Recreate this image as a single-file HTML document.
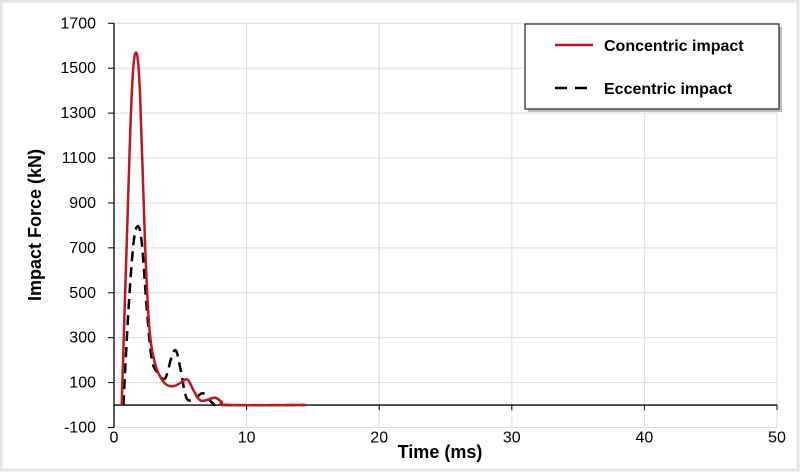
<!DOCTYPE html>
<html><head><meta charset="utf-8"><style>
body{margin:0;background:#fff;}
svg{display:block;font-family:"Liberation Sans",Arial,sans-serif;}
</style></head><body>
<svg id="chart" width="800" height="472" viewBox="0 0 800 472">
<rect x="1" y="1" width="797" height="469" fill="#fff" stroke="#e4e4e4" stroke-width="3"/>
<g id="grid"></g>
<g id="axes"></g>
<g id="series"></g>
<text x="440" y="458" text-anchor="middle" font-size="18" font-weight="bold">Time (ms)</text>
<text transform="translate(41,225) rotate(-90)" text-anchor="middle" font-size="18" font-weight="bold">Impact Force (kN)</text>
<g>
<rect x="528" y="27" width="254" height="85" fill="#bdbdbd"/>
<rect x="525" y="24" width="254" height="85" fill="#fff" stroke="#222" stroke-width="1.2"/>
<line x1="555" y1="45" x2="593" y2="45" stroke="#c0161e" stroke-width="2.5"/>
<text x="604" y="51" font-size="16" font-weight="bold">Concentric impact</text>
<line x1="555" y1="88" x2="593" y2="88" stroke="#000" stroke-width="2.5" stroke-dasharray="12,8"/>
<text x="604" y="94" font-size="16" font-weight="bold">Eccentric impact</text>
</g>
</svg>
<script>
const xTicks=[0,10,20,30,40,50];
const yTicks=[-100,100,300,500,700,900,1100,1300,1500,1700];
const concT=[0.58,0.96,1.34,1.66,1.96,2.34,2.66,3.09,3.72,4.35,4.97,5.53,5.98,6.48,6.98,7.61,8.11,8.62,14.5];
const concV=[0,720,1389,1570,1389,720,349,186,104,83,97,114,67,22,22,33,15,0,0];
const eccT=[0.71,1.09,1.47,1.80,2.10,2.48,2.86,3.36,3.86,4.35,4.68,5.03,5.48,6.11,6.73,7.48,8.24,14.3];
const eccV=[0,423,720,797,720,423,200,141,119,215,242,156,30,30,52,7,0,0];
const NS="http://www.w3.org/2000/svg";
const X0=114,X1=777,Y0=427.5,Y1=23.3;
const sx=t=>X0+(t-0)/50*(X1-X0);
const sy=v=>Y0-(v+100)/1800*(Y0-Y1);
function mk(tag,attrs,parent){const e=document.createElementNS(NS,tag);for(const k in attrs)e.setAttribute(k,attrs[k]);parent.appendChild(e);return e;}
const grid=document.getElementById('grid'),axes=document.getElementById('axes'),series=document.getElementById('series');
yTicks.forEach(v=>{
 const l=mk('line',{x1:X0,x2:X1,y1:sy(v),y2:sy(v),stroke:'#dcdcdc','stroke-width':1},grid);
 
 
 const tk=mk('line',{x1:X0-6,x2:X0,y1:sy(v),y2:sy(v),stroke:'#000'},axes);
 
 
 const t=mk('text',{x:96,y:sy(v)+5,'text-anchor':'end','font-size':16},axes);
 t.textContent=v;
 
 
});
xTicks.forEach(v=>{
 if(v>0){const l=mk('line',{x1:sx(v),x2:sx(v),y1:Y1,y2:Y0,stroke:'#dcdcdc','stroke-width':1},grid);
 
 }
 const tk=mk('line',{x1:sx(v),x2:sx(v),y1:sy(0),y2:sy(0)+5,stroke:'#000'},axes);
 
 
 const t=mk('text',{x:sx(v),y:Y0+15,'text-anchor':'middle','font-size':16},axes);
 t.textContent=v;
 
 
});
const ya=mk('line',{x1:X0,x2:X0,y1:Y1,y2:Y0,stroke:'#000','stroke-width':1.3},axes);


const xa=mk('line',{x1:X0,x2:X1,y1:sy(0),y2:sy(0),stroke:'#000','stroke-width':1.3},axes);


function smooth(T,V){
 const p=T.map((t,i)=>[sx(t),sy(V[i])]);
 let d='M'+p[0][0]+','+p[0][1];
 for(let i=0;i<p.length-1;i++){
  const p0=p[i-1]||p[i],p1=p[i],p2=p[i+1],p3=p[i+2]||p2;
  const c1=[p1[0]+(p2[0]-p0[0])/6,p1[1]+(p2[1]-p0[1])/6];
  const c2=[p2[0]-(p3[0]-p1[0])/6,p2[1]-(p3[1]-p1[1])/6];
  d+=' C'+c1+' '+c2+' '+p2;
 }
 return d;
}
const e=mk('path',{d:smooth(eccT,eccV),fill:'none',stroke:'#000','stroke-width':2.5,'stroke-dasharray':'10,6'},series);


const c=mk('path',{d:smooth(concT,concV),fill:'none',stroke:'#c0161e','stroke-width':2.5},series);


</script>
</body></html>
